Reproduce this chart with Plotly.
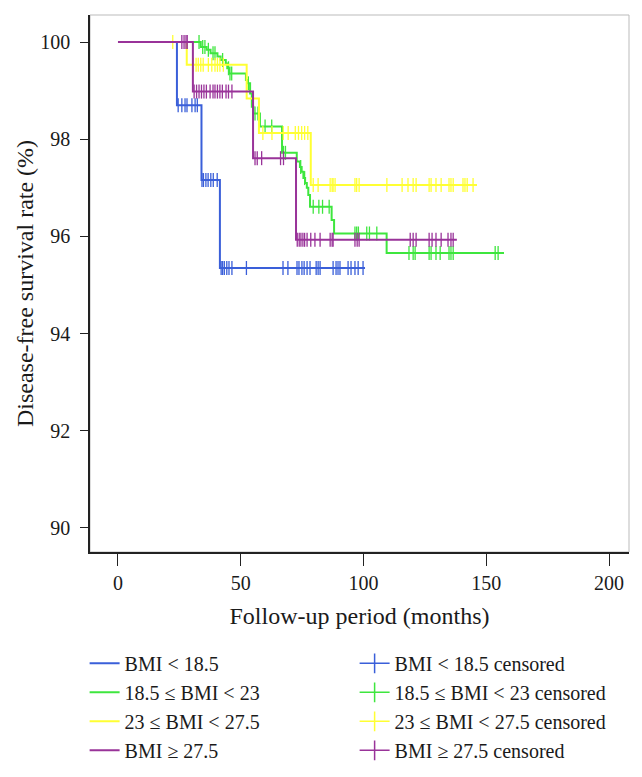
import plotly.graph_objects as go

# Kaplan-Meier steps: event times (months) and survival (%) after each event
groups = ["BMI < 18.5", "18.5 ≤ BMI < 23", "23 ≤ BMI < 27.5", "BMI ≥ 27.5"]
colors = ["#3a5fd9", "#3ee63e", "#ffff33", "#993399"]

blue_t = [0, 24, 34, 41.5]
blue_s = [100, 98.70, 97.16, 95.35]
blue_end = 100.6
blue_cens = [24.5, 26, 27.3, 28.1, 30.1, 31.4, 32.3,
             34.2, 34.8, 35.8, 36.7, 37.8, 38.8, 40.4,
             42, 42.6, 43.3, 44.3, 45.2, 46.4, 52.3,
             67.2, 69.2, 72.9, 73.7, 74.9, 75.8, 77, 78.2, 80.7, 81.5, 82.3,
             87.6, 88.8, 89.6, 90.4, 93.7, 94.9, 96.5, 97.8, 99.8]

green_t = [0, 33.7, 36.1, 37.7, 40.5, 41.8, 43.9, 44.5, 45.2, 52.1, 52.7, 53.8, 54.5, 55.1,
           57.8, 66.8, 72.8, 74.1, 74.8, 75.5, 76.2, 76.9, 77.5, 78.2, 87.0, 88.0, 109.4]
green_s = [100, 99.90, 99.84, 99.77, 99.70, 99.63, 99.56, 99.46, 99.35, 99.22, 99.15, 98.94, 98.67, 98.53,
           98.26, 97.72, 97.54, 97.43, 97.33, 97.20, 97.10, 97.00, 96.85, 96.61, 96.34, 96.06, 95.66]
green_end = 157.2
green_cens = [33, 34.5, 35.4, 36.8, 38.7, 39.5, 42.6, 45.0, 45.6, 46.3, 53.1,
              55.8, 57, 59.9, 62.6, 67.4, 68.2, 74.4, 76,
              79.5, 81.8, 83.3, 86.0, 96.5, 97.2, 97.9, 101.3, 102.4, 105.4,
              118.5, 120.2, 121, 126.7, 127.5, 129.5, 131.2, 134.8, 135.6, 136.5, 153.6, 154.8]

yellow_t = [0, 28, 52.4, 57.4, 78.5]
yellow_s = [100, 99.53, 98.84, 98.13, 97.06]
yellow_end = 146.2
yellow_cens = [22.3, 30.7, 31.8, 32.7, 33.7, 34.7, 36.8, 38.2, 39.5, 40.5, 41.5, 42.9,
               59, 62.7, 67.3, 69.3, 72.2, 73.5, 74.8, 76, 77.3,
               79.5, 81.5, 86.4, 87.2, 87.6, 88.4, 96.5, 97.2, 98.2, 109.5, 115.7, 118.1,
               120.2, 121.4, 126.7, 127.5, 129.5, 131.6, 134.8, 135.6, 136.5,
               140.5, 141.3, 142.2, 144.6]

purple_t = [0, 30.5, 55, 72.5]
purple_s = [100, 98.98, 97.61, 95.93]
purple_end = 138
purple_cens = [26, 26.9, 27.7, 28.2,
               31, 32, 33, 34, 35, 36, 37.5, 38.7, 39.5, 40.5, 41.5, 42.5, 44, 45, 46.4,
               55.8, 56.7, 58.5, 66.2, 67.4,
               73, 73.8, 74.5, 75.3, 76, 77, 78.5, 80.2, 82.3, 86.4, 87.2, 87.6,
               96.5, 97.4, 98.2, 119, 120.2, 121.4, 126.7, 127.9, 129.5, 131.6, 134.4, 135.6, 136.5]

x_ticks = [0, 50, 100, 150, 200]
y_ticks = [90, 92, 94, 96, 98, 100]

series = [
    (blue_t, blue_s, blue_end, blue_cens),
    (green_t, green_s, green_end, green_cens),
    (yellow_t, yellow_s, yellow_end, yellow_cens),
    (purple_t, purple_s, purple_end, purple_cens),
]


def surv_at(t, times, surv):
    s = surv[0]
    for ti, si in zip(times, surv):
        if ti <= t:
            s = si
    return s


FONT = "Liberation Serif"
fig = go.Figure()

for name, col, (t, s, end, cens) in zip(groups, colors, series):
    fig.add_trace(go.Scatter(x=t + [end], y=s + [s[-1]], mode="lines", line_shape="hv",
                             line=dict(color=col, width=2), name=name))
    # legend entry for the censor marks
    fig.add_trace(go.Scatter(x=[None], y=[None], mode="lines+markers", name=name + " censored",
                             line=dict(color=col, width=1.5),
                             marker=dict(symbol="line-ns", size=14, line=dict(color=col, width=1.5))))
    fig.add_trace(go.Scatter(x=cens, y=[surv_at(c, t, s) for c in cens], mode="markers",
                             showlegend=False,
                             marker=dict(symbol="line-ns", size=10, color=col,
                                         line=dict(color=col, width=1.3))))

# light frame around the plot area
fig.add_shape(type="rect", xref="paper", yref="paper", x0=0, y0=0, x1=1, y1=1,
              line=dict(color="#bbbbbb", width=1), layer="below")

# page body adds an 8px offset, so the figure is sized to fit inside the window
fig.update_layout(
    width=634, height=769,
    margin=dict(l=82, r=13, t=7, b=225, autoexpand=False),
    paper_bgcolor="white", plot_bgcolor="white",
    font=dict(family=FONT, size=20, color="#1a1a1a"),
    showlegend=True,
    legend=dict(orientation="h", x=-0.01, y=-0.171, xanchor="left", yanchor="top",
                entrywidth=225, entrywidthmode="pixels", traceorder="normal",
                tracegroupgap=0,
                font=dict(family=FONT, size=20, color="#1a1a1a")),
)
fig.update_xaxes(range=[-11.4, 208.1], tickvals=x_ticks, showgrid=False, zeroline=False,
                 showline=True, linecolor="#222", linewidth=1.5, automargin=False,
                 ticks="outside", ticklen=12, tickwidth=1.3, tickcolor="#222",
                 title=dict(text="Follow-up period (months)", standoff=14))
fig.update_yaxes(range=[89.506, 100.556], tickvals=y_ticks, showgrid=False, zeroline=False,
                 showline=True, linecolor="#222", linewidth=1.5, automargin=False,
                 ticks="outside", ticklen=8, tickwidth=1.3, tickcolor="#222",
                 ticklabelstandoff=6,
                 title=dict(text="Disease-free survival rate (%)", standoff=0))

fig.write_html("out.html")
